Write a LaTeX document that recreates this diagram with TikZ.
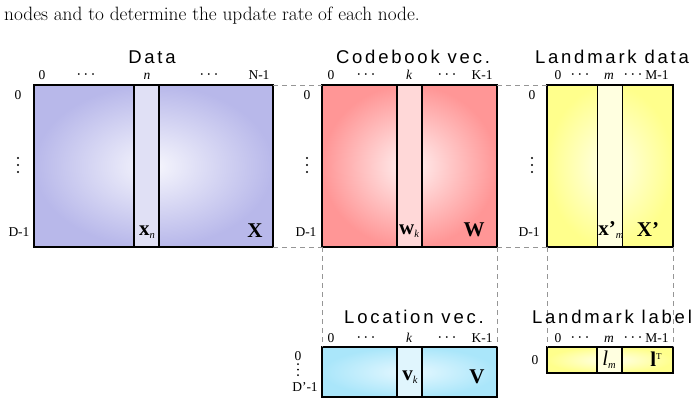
\documentclass[tikz,border=0pt]{standalone}
\usepackage{fontspec}
\setmainfont{Liberation Serif}
\newfontfamily\ttlfont[LetterSpace=15]{Liberation Sans}
\newfontfamily\cmfont{Latin Modern Roman}
\newcommand{\mydots}{·\kern2.2pt·\kern2.2pt·}
\definecolor{datout}{RGB}{184,184,234}
\definecolor{datin}{RGB}{246,246,253}
\definecolor{datcol}{RGB}{224,224,245}
\definecolor{codout}{RGB}{255,150,150}
\definecolor{codin}{RGB}{255,242,242}
\definecolor{codcol}{RGB}{255,216,216}
\definecolor{lmout}{RGB}{255,255,140}
\definecolor{lmin}{RGB}{255,255,236}
\definecolor{lmcol}{RGB}{255,255,224}
\definecolor{locout}{RGB}{170,230,250}
\definecolor{locin}{RGB}{230,248,255}
\definecolor{loccol}{RGB}{224,245,253}
\definecolor{dashgray}{RGB}{150,150,150}
\begin{document}
\begin{tikzpicture}[x=1pt,y=-1pt,
  mat/.style={draw=black,line width=1.8pt,inner sep=0pt,outer sep=0pt},
  colbox/.style={draw=black,line width=1.8pt,inner sep=0pt,outer sep=0pt,minimum width=25pt},
  link/.style={draw=dashgray,line width=0.9pt,dash pattern=on 5pt off 4pt},
  ttl/.style={font=\ttlfont\fontsize{18.5}{20}\selectfont,anchor=base,inner sep=0pt},
  lbl/.style={font=\fontsize{13.5}{15}\selectfont,anchor=base,inner sep=0pt},
  dts/.style={font=\fontsize{15}{16}\selectfont,anchor=base,inner sep=0pt},
  rlbl/.style={font=\fontsize{13.5}{15}\selectfont,inner sep=0pt},
  big/.style={font=\fontsize{21}{23}\selectfont\bfseries,inner sep=0pt},
  dot/.style={fill=black}
]
\useasboundingbox (0,0) rectangle (699,405);

% paper text line
\node[anchor=base west,inner sep=0pt,font=\cmfont\fontsize{19.3}{21}\selectfont] (txt) at (4,20)
  {nodes and to determine the update rate of each node.};

% matrices
\node[mat,inner color=datin,outer color=datout,minimum width=239pt,minimum height=162pt] (data) at (153.5,166) {};
\node[colbox,fill=datcol,minimum height=162pt] (xn) at (146.5,166) {};

\node[mat,inner color=codin,outer color=codout,minimum width=175pt,minimum height=162pt] (code) at (409.5,166) {};
\node[colbox,fill=codcol,minimum height=162pt] (wk) at (409.5,166) {};

\node[mat,inner color=lmin,outer color=lmout,minimum width=126pt,minimum height=162pt] (lmd) at (610,166) {};
\node[colbox,fill=lmcol,minimum height=162pt] (xm) at (610,166) {};

\node[mat,inner color=locin,outer color=locout,minimum width=175pt,minimum height=50pt] (loc) at (409.5,372) {};
\node[colbox,fill=loccol,minimum height=50pt] (vk) at (409.5,372) {};

\node[mat,inner color=lmin,outer color=lmout,minimum width=126pt,minimum height=26pt] (lml) at (610,360) {};
\node[colbox,fill=lmcol,minimum height=26pt] (lm) at (609.5,360) {};

% dashed connectors
\draw[link] (data.north east) -- (code.north west);
\draw[link] (data.south east) -- (code.south west);
\draw[link] (code.north east) -- (lmd.north west);
\draw[link] (code.south east) -- (lmd.south west);
\draw[link] (code.south west) -- (loc.north west);
\draw[link] (code.south east) -- (loc.north east);
\draw[link] (lmd.south west) -- (lml.north west);
\draw[link] (lmd.south east) -- (lml.north east);

% titles
\node[ttl] (t1) at (152,63) {Data};
\node[ttl] (t2) at (413,63) {Codebook vec.};
\node[ttl] (t3) at (612,63) {Landmark data};
\node[ttl] (t4) at (414,323) {Location vec.};
\node[ttl] (t5) at (612,323) {Landmark label};

% column labels
\node[lbl] (d0) at (42,79) {0};
\node[dts] (d1) at (86,79) {\mydots};
\node[lbl] (d2) at (147,79) {\itshape n};
\node[dts] (d3) at (209,79) {\mydots};
\node[lbl] (d4) at (259,79) {N-1};

\node[lbl] (c0) at (331,79) {0};
\node[dts] (c1) at (366,79) {\mydots};
\node[lbl] (c2) at (409,79) {\itshape k};
\node[dts] (c3) at (447,79) {\mydots};
\node[lbl] (c4) at (482,79) {K-1};

\node[lbl] (l0) at (558,79) {0};
\node[dts] (l1) at (580,79) {\mydots};
\node[lbl] (l2) at (609,79) {\itshape m};
\node[dts] (l3) at (633,79) {\mydots};
\node[lbl] (l4) at (657,79) {M-1};

\node[lbl] (v0) at (331,342) {0};
\node[dts] (v1) at (366,342) {\mydots};
\node[lbl] (v2) at (409,342) {\itshape k};
\node[dts] (v3) at (447,342) {\mydots};
\node[lbl] (v4) at (482,342) {K-1};

\node[lbl] (b0) at (558,342) {0};
\node[dts] (b1) at (580,342) {\mydots};
\node[lbl] (b2) at (609,342) {\itshape m};
\node[dts] (b3) at (633,342) {\mydots};
\node[lbl] (b4) at (657,342) {M-1};

% row labels
\node[rlbl] (dr0) at (18,95) {0};
\node[rlbl] (dr1) at (19,232) {D-1};
\node[rlbl] (cr0) at (307,95) {0};
\node[rlbl] (cr1) at (306,232) {D-1};
\node[rlbl] (lr0) at (532,95) {0};
\node[rlbl] (lr1) at (529,232) {D-1};
\node[rlbl] (vr0) at (298,356) {0};
\node[rlbl] (vr1) at (305,387) {D’-1};
\node[rlbl] (br0) at (535,360) {0};

% vertical dots
\foreach \xx in {18,307,532}{
  \foreach \yy in {158,165,172}{
    \fill[dot] (\xx,\yy) circle (1.1pt);
  }
}
\foreach \yy in {364,369.5,375}{
  \fill[dot] (298,\yy) circle (1pt);
}

% inner labels
\node[big] (lxn) at (147,232) {x\raisebox{-3pt}{\fontsize{10.5}{10}\selectfont\mdseries\itshape n}};
\node[big] (lX) at (255,231) {X};
\node[big] (lwk) at (409,231) {w\raisebox{-3pt}{\fontsize{10.5}{10}\selectfont\mdseries\itshape k}};
\node[big] (lW) at (474,230) {W};
\node[big] (lxm) at (611,230) {x’\raisebox{-3pt}{\fontsize{10.5}{10}\selectfont\mdseries\itshape m}};
\node[big] (lXp) at (648,230) {X’};
\node[big] (lvk) at (410,377) {v\raisebox{-3pt}{\fontsize{10.5}{10}\selectfont\mdseries\itshape k}};
\node[big] (lV) at (477,377) {V};
\node[big] (llm) at (609,360) {\mdseries\itshape l\raisebox{-3pt}{\fontsize{10.5}{10}\selectfont m}};
\node[big] (llT) at (656,359) {l\raisebox{7pt}{\fontsize{9}{9}\selectfont\mdseries T}};
\end{tikzpicture}
\end{document}
